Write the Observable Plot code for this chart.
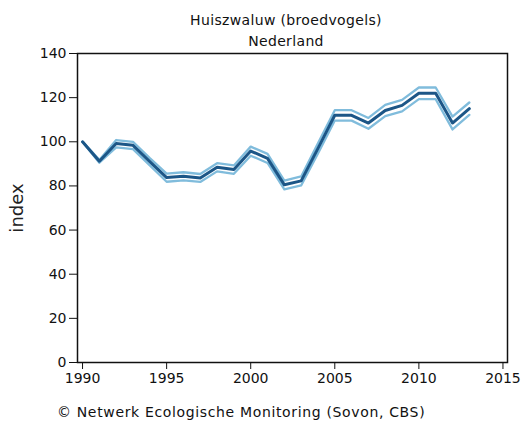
<!DOCTYPE html>
<html>
<head>
<meta charset="utf-8">
<script src="https://cdn.jsdelivr.net/npm/d3@7"></script>
<script src="https://cdn.jsdelivr.net/npm/@observablehq/plot@0.6"></script>
<style>
  html, body { margin: 0; padding: 0; background: #fff; }
  #wrap { position: relative; width: 524px; height: 423px; font-family: "DejaVu Sans", sans-serif; color: #111; }
  .t { position: absolute; left: 71px; width: 430px; text-align: center; font-size: 14px; letter-spacing: 0.35px; line-height: 1; white-space: nowrap; }
  #cap { position: absolute; left: 57px; top: 405px; font-size: 14px; letter-spacing: 0.65px; line-height: 1; white-space: nowrap; }
  svg { position: absolute; left: 0; top: 0; }
</style>
</head>
<body>
<div id="wrap">
  <div class="t" style="top:13px">Huiszwaluw (broedvogels)</div>
  <div class="t" style="top:34px">Nederland</div>
  <div id="cap">© Netwerk Ecologische Monitoring (Sovon, CBS)</div>
</div>
<script>
const years = [1990,1991,1992,1993,1994,1995,1996,1997,1998,1999,2000,2001,2002,2003,2004,2005,2006,2007,2008,2009,2010,2011,2012,2013];
const indexValues = [100,91.2,99.2,98.4,91,83.8,84.4,83.6,88.5,87.4,95.8,92.5,80.5,82.3,97,112,112,108.5,114.2,116.5,122,122,108.5,115];
const upperValues = [100,91.8,100.8,100,92.6,85.6,86.2,85.4,90.3,89.3,97.8,94.5,82.4,84.3,99.3,114.3,114.3,110.8,116.7,119,124.6,124.6,111.4,117.8];
const lowerValues = [100,90.5,97.5,96.7,89.3,81.9,82.5,81.8,86.6,85.5,93.7,90.4,78.4,80.2,94.7,109.6,109.6,105.9,111.6,113.8,119.3,119.3,105.6,112.2];
const xTicks = [1990,1995,2000,2005,2010,2015];
const yTicks = [0,20,40,60,80,100,120,140];

const data = years.map((y, i) => ({year: y, index: indexValues[i], upper: upperValues[i], lower: lowerValues[i]}));

const chart = Plot.plot({
  width: 524,
  height: 423,
  marginTop: 53,
  marginBottom: 61,
  marginLeft: 77,
  marginRight: 17,
  style: {fontFamily: "DejaVu Sans, sans-serif", fontSize: "14px", color: "#111", background: "transparent", overflow: "visible"},
  x: {domain: [1989.7, 2015.27], ticks: xTicks, tickFormat: d => String(d), tickSize: 7, tickPadding: 4, label: null},
  y: {domain: [0, 140], ticks: yTicks, tickSize: 8, tickPadding: 3, label: null},
  marks: [
    Plot.frame({stroke: "#111", strokeWidth: 1.5}),
    Plot.axisX({ticks: xTicks, tickFormat: d => String(d), tickSize: 7, tickPadding: 4, label: null, stroke: "#111"}),
    Plot.axisY({ticks: yTicks, tickSize: 8, tickPadding: 3, label: null, stroke: "#111"}),
    Plot.text(["index"], {frameAnchor: "left", textAnchor: "middle", dx: -60, dy: 0, rotate: -90, fontSize: 18, fill: "#222"}),
    Plot.line(data, {x: "year", y: "upper", stroke: "#80bcdc", strokeWidth: 2.3}),
    Plot.line(data, {x: "year", y: "lower", stroke: "#80bcdc", strokeWidth: 2.3}),
    Plot.line(data, {x: "year", y: "index", stroke: "#1c5687", strokeWidth: 3})
  ]
});
document.getElementById("wrap").prepend(chart);
</script>
</body>
</html>
